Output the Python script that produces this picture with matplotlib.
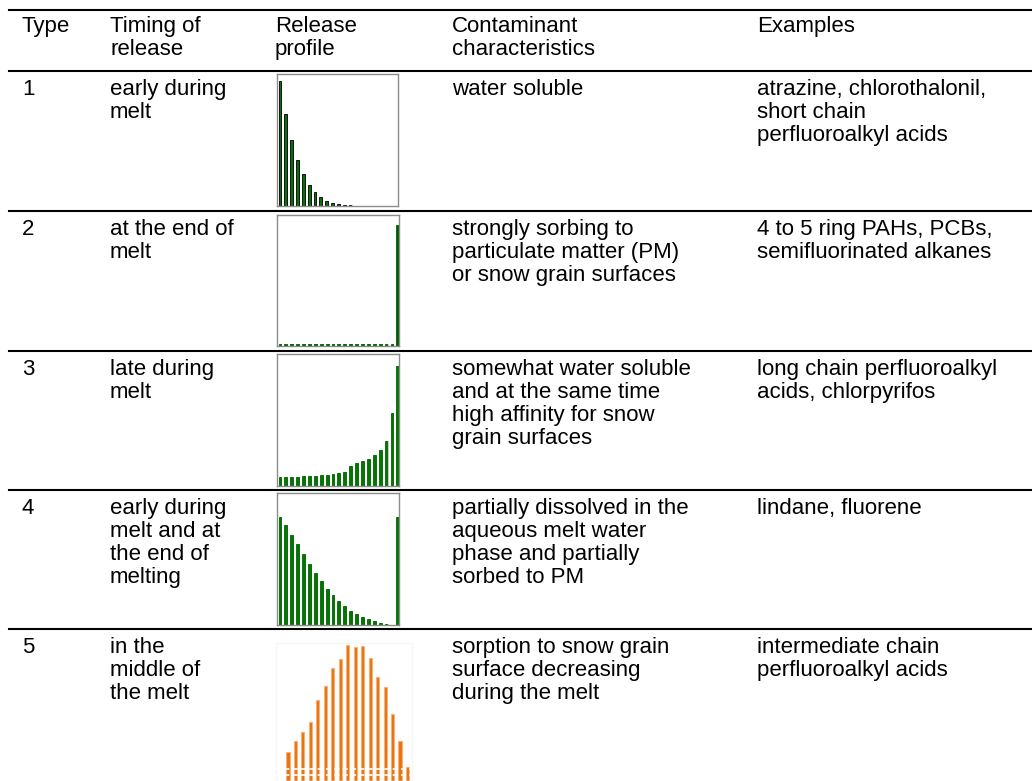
import matplotlib
matplotlib.use('Agg')
import matplotlib.pyplot as plt
from matplotlib.lines import Line2D
import numpy as np

W, H = 1032, 781

plt.rcParams.update({
    'font.family': ['Liberation Sans', 'DejaVu Sans'],
    'font.size': 16,
})

# table text
col_x = [22, 110, 275, 452, 757]
header = ["Type", "Timing of\nrelease", "Release\nprofile",
          "Contaminant\ncharacteristics", "Examples"]
types = ["1", "2", "3", "4", "5"]
timing = ["early during\nmelt",
          "at the end of\nmelt",
          "late during\nmelt",
          "early during\nmelt and at\nthe end of\nmelting",
          "in the\nmiddle of\nthe melt"]
characteristics = ["water soluble",
                   "strongly sorbing to\nparticulate matter (PM)\nor snow grain surfaces",
                   "somewhat water soluble\nand at the same time\nhigh affinity for snow\ngrain surfaces",
                   "partially dissolved in the\naqueous melt water\nphase and partially\nsorbed to PM",
                   "sorption to snow grain\nsurface decreasing\nduring the melt"]
examples = ["atrazine, chlorothalonil,\nshort chain\nperfluoroalkyl acids",
            "4 to 5 ring PAHs, PCBs,\nsemifluorinated alkanes",
            "long chain perfluoroalkyl\nacids, chlorpyrifos",
            "lindane, fluorene",
            "intermediate chain\nperfluoroalkyl acids"]

# release profiles (fraction of the small plot height)
profile_1 = [0.947, 0.694, 0.497, 0.348, 0.24, 0.159, 0.106, 0.068, 0.04, 0.025,
             0.012, 0.006, 0.004, 0.003, 0.002, 0.002, 0.002, 0.002, 0.002, 0.002, 0.002]
profile_2 = [0.015] * 20 + [0.92]
profile_3 = [0.068, 0.068, 0.071, 0.068, 0.076, 0.076, 0.078, 0.084, 0.086, 0.091,
             0.099, 0.106, 0.152, 0.175, 0.19, 0.208, 0.235, 0.273, 0.344, 0.554, 0.911]
profile_4 = [0.818, 0.758, 0.682, 0.614, 0.538, 0.464, 0.396, 0.333, 0.275, 0.227,
             0.182, 0.144, 0.106, 0.083, 0.063, 0.045, 0.03, 0.017, 0.008, 0.0, 0.818]
profile_5 = [0.21, 0.29, 0.355, 0.43, 0.587, 0.688, 0.819, 0.884, 0.986, 0.971,
             0.978, 0.891, 0.754, 0.681, 0.486, 0.29, 0.10]

fig = plt.figure(figsize=(W / 100, H / 100), dpi=100)


def fx(x):
    return x / W


def fy(y):
    return 1 - y / H


def put_lines(x, y0, text, step=23):
    for i, line in enumerate(text.split("\n")):
        fig.text(fx(x), fy(y0 + i * step), line, ha='left', va='baseline')


# horizontal rules
rule_y = [10, 71, 211, 351, 490, 629]
for y in rule_y:
    fig.add_artist(Line2D([fx(9), fx(W)], [fy(y), fy(y)], color='black', lw=1.5))

# header
for x, t in zip(col_x, header):
    put_lines(x, 32, t)

# rows
row_top = rule_y[1:]
for i in range(5):
    y0 = row_top[i] + 24
    put_lines(col_x[0], y0, types[i])
    put_lines(col_x[1], y0, timing[i])
    put_lines(col_x[3], y0, characteristics[i])
    put_lines(col_x[4], y0, examples[i])


def mini_axes(x0, y0, x1, y1):
    ax = fig.add_axes([fx(x0), fy(y1), fx(x1) - fx(x0), fy(y0) - fy(y1)])
    ax.set_xticks([])
    ax.set_yticks([])
    for s in ax.spines.values():
        s.set_color('#8C8C8C')
        s.set_linewidth(1.0)
    return ax


green_boxes = [(277, 74, 398, 206), (277, 215, 399, 346),
               (277, 354, 399, 486), (277, 493, 399, 625)]
green_profiles = [profile_1, profile_2, profile_3, profile_4]
green_fill = ['#0A6E0A', '#005C00', '#007800', '#007800']
green_edge = ['black', '#005C00', '#006400', '#006400']

for box, vals, fc, ec in zip(green_boxes, green_profiles, green_fill, green_edge):
    ax = mini_axes(*box)
    x = np.arange(len(vals))
    ax.bar(x + 0.18, vals, width=0.48, color='#C8C8C8', zorder=1)
    ax.bar(x, vals, width=0.48, color=fc, edgecolor=ec, linewidth=0.6, zorder=2)
    ax.set_xlim(-0.5, 20.2)
    ax.set_ylim(0, 1)

# orange profile (cut off at the bottom of the page)
ax5 = mini_axes(276, 643, 412, H)
for s in ax5.spines.values():
    s.set_color('#F6F6F6')
x5 = np.arange(len(profile_5))
ax5.bar(x5, profile_5, width=0.42, color='#E8730C', edgecolor='#F6B27A',
        linewidth=0.8, zorder=2)
ax5.set_xlim(-1.6, 16.6)
ax5.set_ylim(0, 1)
for yy in [0.085, 0.045]:
    ax5.axhline(yy, color='white', lw=1.2, ls=(0, (3, 2)), zorder=3)

fig.savefig('out.png', dpi=100)
